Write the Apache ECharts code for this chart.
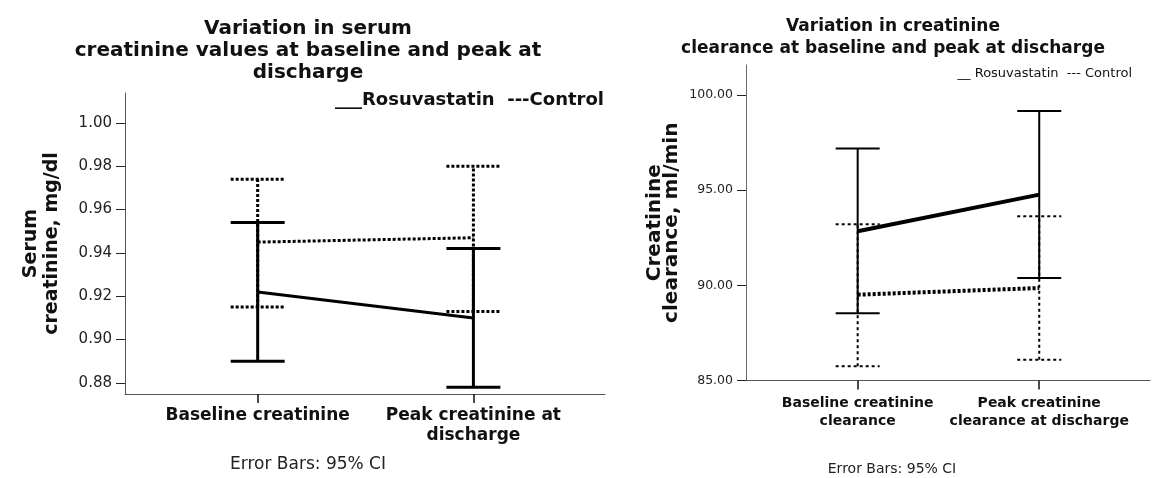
<!DOCTYPE html>
<html>
<head>
<meta charset="utf-8">
<script src="https://cdn.jsdelivr.net/npm/echarts@6/dist/echarts.min.js"></script>
<style>
html,body{margin:0;padding:0;background:#fff;}
#c{width:1155px;height:478px;}
</style>
</head>
<body>
<div id="c"></div>
<script>
// ---- Left chart: serum creatinine ----
const leftCategories = ['Baseline creatinine', 'Peak creatinine at\ndischarge'];
const leftRosuMean = [0.922, 0.910];
const leftRosuLow = [0.890, 0.878];
const leftRosuHigh = [0.954, 0.942];
const leftCtrlMean = [0.945, 0.947];
const leftCtrlLow = [0.915, 0.913];
const leftCtrlHigh = [0.974, 0.980];
const leftTicks = [0.88, 0.90, 0.92, 0.94, 0.96, 0.98, 1.00];

// ---- Right chart: creatinine clearance ----
const rightCategories = ['Baseline creatinine\nclearance', 'Peak creatinine\nclearance at discharge'];
const rightRosuMean = [92.84, 94.77];
const rightRosuLow = [88.54, 90.38];
const rightRosuHigh = [97.19, 99.16];
const rightCtrlMean = [89.51, 89.86];
const rightCtrlLow = [85.75, 86.09];
const rightCtrlHigh = [93.21, 93.63];
const rightTicks = [85, 90, 95, 100];

const catPos = [1, 2];
const FONT = 'DejaVu Sans';

function errSeries(xi, yi, low, high, capHalf, width, dash) {
  return {
    type: 'custom', xAxisIndex: xi, yAxisIndex: yi, z: 3,
    data: catPos.map((x, i) => [x, low[i], high[i]]),
    renderItem: function (params, api) {
      const x = api.value(0);
      const pLow = api.coord([x, api.value(1)]);
      const pHigh = api.coord([x, api.value(2)]);
      const style = { stroke: '#000', lineWidth: width, lineDash: dash, fill: null };
      return {
        type: 'group',
        children: [
          { type: 'line', shape: { x1: pLow[0], y1: pLow[1], x2: pHigh[0], y2: pHigh[1] }, style: style },
          { type: 'line', shape: { x1: pLow[0] - capHalf, y1: pLow[1], x2: pLow[0] + capHalf, y2: pLow[1] }, style: style },
          { type: 'line', shape: { x1: pHigh[0] - capHalf, y1: pHigh[1], x2: pHigh[0] + capHalf, y2: pHigh[1] }, style: style }
        ]
      };
    }
  };
}
function meanSeries(xi, yi, vals, width, type) {
  return {
    type: 'line', xAxisIndex: xi, yAxisIndex: yi, z: 4,
    data: catPos.map((x, i) => [x, vals[i]]),
    symbol: 'none', silent: true,
    lineStyle: { color: '#000', width: width, type: type }
  };
}

function xAxisDef(gi, cats, fs, lh, margin) {
  return {
    type: 'value', gridIndex: gi, min: 0.385, max: 2.61,
    splitLine: { show: false },
    axisLine: { lineStyle: { color: '#555', width: 1 } },
    axisTick: { customValues: catPos, length: 9, lineStyle: { color: '#111', width: 1.5 } },
    axisLabel: {
      customValues: catPos,
      formatter: v => cats[Math.round(v) - 1] || '',
      fontFamily: FONT, fontWeight: 'bold', fontSize: fs, color: '#111', lineHeight: lh, margin: margin
    }
  };
}

const chart = echarts.init(document.getElementById('c'), null, { renderer: 'canvas' });
chart.setOption({
  backgroundColor: '#fff',
  animation: false,
  title: [
    { text: 'Variation in serum\ncreatinine values at baseline and peak at\ndischarge', left: 308, top: 18, textAlign: 'center', padding: 0,
      textStyle: { fontFamily: FONT, fontWeight: 'bold', fontSize: 20, lineHeight: 22, color: '#111' } },
    { text: '___Rosuvastatin  ---Control', left: 604, top: 91, textAlign: 'right', padding: 0,
      textStyle: { fontFamily: FONT, fontWeight: 'bold', fontSize: 18, color: '#111' } },
    { text: 'Error Bars: 95% CI', left: 308, top: 456, textAlign: 'center', padding: 0,
      textStyle: { fontFamily: FONT, fontWeight: 'normal', fontSize: 17, color: '#222' } },
    { text: 'Variation in creatinine\nclearance at baseline and peak at discharge', left: 893, top: 16, textAlign: 'center', padding: 0,
      textStyle: { fontFamily: FONT, fontWeight: 'bold', fontSize: 17, lineHeight: 22, color: '#111' } },
    { text: '__ Rosuvastatin  --- Control', left: 1132, top: 67, textAlign: 'right', padding: 0,
      textStyle: { fontFamily: FONT, fontWeight: 'normal', fontSize: 13, color: '#111' } },
    { text: 'Error Bars: 95% CI', left: 892, top: 462, textAlign: 'center', padding: 0,
      textStyle: { fontFamily: FONT, fontWeight: 'normal', fontSize: 14, color: '#222' } }
  ],
  grid: [
    { left: 125, top: 93, width: 480, height: 301 },
    { left: 746, top: 65, width: 404, height: 315.5 }
  ],
  xAxis: [xAxisDef(0, leftCategories, 17, 20, 12), xAxisDef(1, rightCategories, 14, 18, 14)],
  yAxis: [
    {
      type: 'value', gridIndex: 0, min: 0.8749, max: 1.0138,
      name: 'Serum\ncreatinine, mg/dl', nameLocation: 'middle', nameGap: 62, nameRotate: 90,
      nameTextStyle: { fontFamily: FONT, fontWeight: 'bold', fontSize: 19, lineHeight: 21, color: '#111' },
      splitLine: { show: false },
      axisLine: { show: true, lineStyle: { color: '#555', width: 1 } },
      axisTick: { show: true, customValues: leftTicks, length: 9, lineStyle: { color: '#222' } },
      axisLabel: { customValues: leftTicks, formatter: v => v.toFixed(2), fontFamily: FONT, fontSize: 15, color: '#222', margin: 13 }
    },
    {
      type: 'value', gridIndex: 1, min: 85, max: 101.58,
      name: 'Creatinine\nclearance, ml/min', nameLocation: 'middle', nameGap: 66, nameRotate: 90,
      nameTextStyle: { fontFamily: FONT, fontWeight: 'bold', fontSize: 20, lineHeight: 17, color: '#111' },
      splitLine: { show: false },
      axisLine: { show: true, lineStyle: { color: '#666', width: 1 } },
      axisTick: { show: true, customValues: rightTicks, length: 9, lineStyle: { color: '#222' } },
      axisLabel: { customValues: rightTicks, formatter: v => v.toFixed(2), fontFamily: FONT, fontSize: 12.5, color: '#222', margin: 13 }
    }
  ],
  series: [
    errSeries(0, 0, leftCtrlLow, leftCtrlHigh, 27, 3, [3, 2]),
    errSeries(0, 0, leftRosuLow, leftRosuHigh, 27, 3, null),
    meanSeries(0, 0, leftCtrlMean, 3, [3, 2]),
    meanSeries(0, 0, leftRosuMean, 3, 'solid'),
    errSeries(1, 1, rightCtrlLow, rightCtrlHigh, 22, 2, [3, 3]),
    errSeries(1, 1, rightRosuLow, rightRosuHigh, 22, 2, null),
    meanSeries(1, 1, rightCtrlMean, 4, [3, 2]),
    meanSeries(1, 1, rightRosuMean, 4, 'solid')
  ]
});
</script>
</body>
</html>
